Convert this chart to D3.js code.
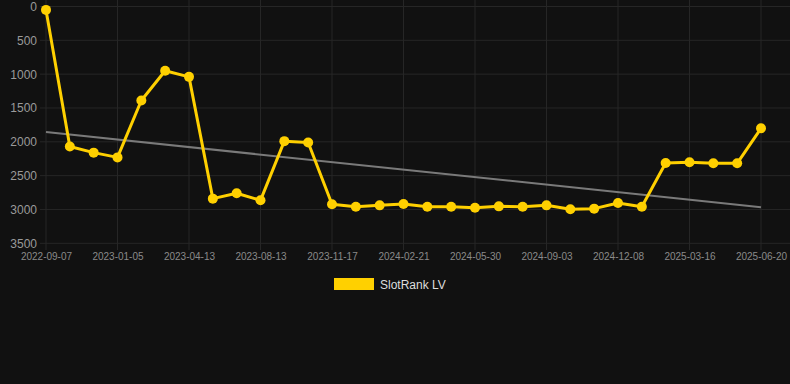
<!DOCTYPE html>
<html>
<head>
<meta charset="utf-8">
<script src="https://cdn.jsdelivr.net/npm/d3@7"></script>
<style>
  html, body { margin: 0; padding: 0; background: #111111; }
  svg { display: block; }
</style>
</head>
<body>
<svg id="chart" width="790" height="384"></svg>
<script>
const dates = [
  "2022-09-07","2022-10-19","2022-11-24","2023-01-05","2023-02-08","2023-03-12",
  "2023-04-13","2023-05-22","2023-07-01","2023-08-13","2023-09-14","2023-10-16",
  "2023-11-17","2023-12-19","2024-01-20","2024-02-21","2024-03-26","2024-04-28",
  "2024-05-30","2024-07-01","2024-08-02","2024-09-03","2024-10-05","2024-11-06",
  "2024-12-08","2025-01-10","2025-02-12","2025-03-16","2025-04-17","2025-05-19",
  "2025-06-20"
];
const rankValues = [
  50, 2070, 2160, 2230, 1390, 950, 1040, 2840, 2760, 2865,
  1990, 2010, 2924, 2959, 2939, 2919, 2959, 2959, 2974, 2954,
  2959, 2939, 2998, 2988, 2904, 2959, 2313, 2303, 2318, 2318,
  1800
];
const yTicks = [0, 500, 1000, 1500, 2000, 2500, 3000, 3500];
const xTickLabels = dates.filter((d, i) => i % 3 === 0);
const seriesName = "SlotRank LV";

const svg = d3.select("#chart");
const W = 790;

const x = d3.scalePoint().domain(dates).range([46, 761]);
const y = d3.scaleLinear().domain([0, 3500]).range([6.5, 243.3]);

// grid
const grid = svg.append("g");
grid.selectAll("line.h").data(yTicks).join("line")
  .attr("x1", 40).attr("x2", W)
  .attr("y1", d => y(d)).attr("y2", d => y(d))
  .attr("stroke", "#262626").attr("stroke-width", 1);
grid.selectAll("line.v").data(xTickLabels).join("line")
  .attr("x1", d => x(d)).attr("x2", d => x(d))
  .attr("y1", 0).attr("y2", 250)
  .attr("stroke", "#262626").attr("stroke-width", 1);

// y axis
const yAxis = d3.axisLeft(y).tickValues(yTicks).tickFormat(d3.format("d")).tickSize(0).tickPadding(0);
const yg = svg.append("g").attr("transform", "translate(37,0)").call(yAxis);
yg.select(".domain").remove();
yg.selectAll("text").attr("fill", "#9a9a9a").style("font-family", "Liberation Sans, Arial, sans-serif").style("font-size", "12px");

// x axis
const xAxis = d3.axisBottom(x).tickValues(xTickLabels).tickSize(0).tickPadding(0);
const xg = svg.append("g").attr("transform", "translate(0,252)").call(xAxis);
xg.select(".domain").remove();
xg.selectAll("text").attr("fill", "#8a8a8a").attr("dy", "0.75em").style("font-family", "Liberation Sans, Arial, sans-serif").style("font-size", "10px");

// trend line (least squares on index)
const n = rankValues.length;
const idx = d3.range(n);
const mx = d3.mean(idx), my = d3.mean(rankValues);
const slope = d3.sum(idx, i => (i - mx) * (rankValues[i] - my)) / d3.sum(idx, i => (i - mx) ** 2);
const intercept = my - slope * mx;
const trend = [0, n - 1].map(i => ({ d: dates[i], v: intercept + slope * i }));
svg.append("path")
  .datum(trend)
  .attr("d", d3.line().x(p => x(p.d)).y(p => y(p.v)))
  .attr("fill", "none").attr("stroke", "#7a7a7a").attr("stroke-width", 2);

// series
const data = dates.map((d, i) => ({ d, v: rankValues[i] }));
svg.append("path")
  .datum(data)
  .attr("d", d3.line().x(p => x(p.d)).y(p => y(p.v)))
  .attr("fill", "none").attr("stroke", "#ffd000").attr("stroke-width", 3)
  .attr("stroke-linejoin", "round");
svg.selectAll("circle.pt").data(data).join("circle")
  .attr("cx", p => x(p.d)).attr("cy", p => y(p.v)).attr("r", 5)
  .attr("fill", "#ffd000");

// legend
const lg = svg.append("g");
lg.append("rect").attr("x", 334).attr("y", 278).attr("width", 40).attr("height", 12).attr("fill", "#ffd000");
lg.append("text").attr("x", 380).attr("y", 288.5).text(seriesName)
  .attr("fill", "#dddddd").style("font-family", "Liberation Sans, Arial, sans-serif").style("font-size", "12px");
</script>
</body>
</html>
